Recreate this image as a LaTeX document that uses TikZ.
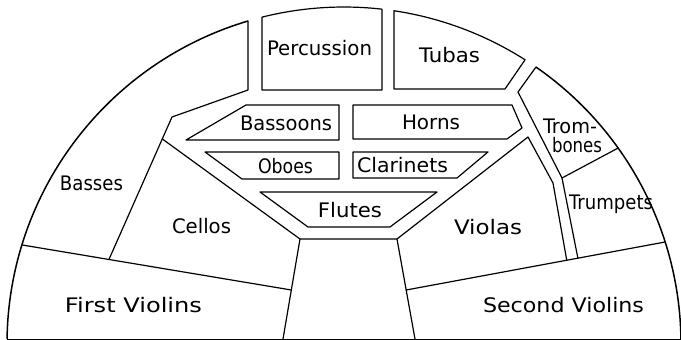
\documentclass[tikz,border=0pt]{standalone}
\usepackage{fontspec}
\setmainfont{DejaVu Sans}
\usetikzlibrary{calc}
\newcommand\fitlbl[2]{\resizebox{#1pt}{\height}{#2}}
\begin{document}
\begin{tikzpicture}[x=1pt,y=1pt,
  wall/.style={line width=1.2pt, line join=round, line cap=round},
  rim/.style={line width=1.5pt, line join=round},
  lab/.style={anchor=base, inner sep=0pt, font=\fontsize{20}{22}\selectfont}]
\useasboundingbox (0,0) rectangle (681,-340);
\coordinate (O) at (344,-344);
% points on the outer rim
\coordinate (aBL) at ([shift={(O)}]179.15:337);
\coordinate (aFV) at ([shift={(O)}]162.9:337);
\coordinate (aBa) at ([shift={(O)}]106.55:337);
\coordinate (aPL) at ([shift={(O)}]104.08:337);
\coordinate (aTL) at ([shift={(O)}]81.47:337);
\coordinate (aTbL) at ([shift={(O)}]55.27:337);
\coordinate (aTT) at ([shift={(O)}]35.56:337);
\coordinate (aSV) at ([shift={(O)}]17.62:337);
\coordinate (aBR) at ([shift={(O)}]0.85:337);
% aisle
\coordinate (aisTL) at (300,-239);
\coordinate (aisTR) at (397,-239);
\coordinate (aisBL) at (283,-339);
\coordinate (aisBR) at (415,-339);
\coordinate (fvR) at ($(aisTL)!0.51!(aisBL)$);
\coordinate (svL) at ($(aisTR)!0.51!(aisBR)$);
\coordinate (basBR) at ($(aFV)!0.323!(fvR)$);
\coordinate (basTL) at (172,-117);
\coordinate (celTL) at ($(basTL)!0.154!(basBR)$);
\coordinate (vioB) at ($(svL)!0.62!(aSV)$);
\coordinate (trpB) at ($(svL)!0.663!(aSV)$);
\coordinate (trbL) at (518,-92);
\coordinate (trbB) at (562,-178);

% outer rim, left part (Basses / First Violins)
\draw[rim] (aBL) arc[start angle=179.15, end angle=106.55, radius=337];
\draw[wall] (aBa) -- (248,-90) -- (basTL) -- (basBR);
% percussion
\draw[wall] (aPL) arc[start angle=104.08, end angle=83.53, radius=337]
  -- (382,-90) -- (262,-90) -- cycle;
% tubas
\draw[wall] (aTL) arc[start angle=81.47, end angle=57.5, radius=337]
  -- (505,-89) -- (394,-89) -- cycle;
% right rim (Trombones / Trumpets / Second Violins)
\draw[rim] (aTbL) arc[start angle=55.27, end angle=0.85, radius=337];
\draw[wall] (aTbL) -- (trbL) -- (trbB) -- (trpB);
\draw[wall] (trbB) -- (aTT);
% violins boundaries
\draw[wall] (aFV) -- (fvR);
\draw[wall] (svL) -- (aSV);
% aisle
\draw[wall] (aisBL) -- (aisTL) -- (aisTR) -- (aisBR);
% cellos and violas
\draw[wall] (celTL) -- (aisTL);
\draw[wall] (aisTR) -- (528,-137) -- (553,-183) -- (vioB);
% woodwinds and horns
\draw[wall] (246,-105) -- (339,-105) -- (339,-140) -- (186,-140) -- cycle;
\draw[wall] (353,-105) -- (512,-105) -- (522,-128) -- (507,-139) -- (353,-139) -- cycle;
\draw[wall] (205,-152) -- (339,-152) -- (339,-179) -- (242,-179) -- cycle;
\draw[wall] (353,-152) -- (488,-152) -- (457,-178) -- (353,-178) -- cycle;
\draw[wall] (260,-192) -- (437,-192) -- (390,-227) -- (308,-227) -- cycle;
% bottom edge
\draw[line width=1pt] (aBL) -- (aBR);

% labels
\node[lab] (perc) at (319.5,-56) {\fitlbl{105}{Percussion}};
\node[lab] (tuba) at (449.5,-63) {\fitlbl{61}{Tubas}};
\node[lab] (bsn) at (286,-130) {\fitlbl{92}{Bassoons}};
\node[lab] (hrn) at (431,-129) {\fitlbl{58}{Horns}};
\node[lab] (obo) at (285.5,-173) {\fitlbl{55}{Oboes}};
\node[lab] (clar) at (402.5,-172) {\fitlbl{91}{Clarinets}};
\node[lab] (flu) at (350,-217) {\fitlbl{64}{Flutes}};
\node[lab] (bass) at (91.5,-190) {\fitlbl{63}{Basses}};
\node[lab] (cel) at (201.5,-233) {\fitlbl{59}{Cellos}};
\node[lab] (vla) at (488,-234) {\fitlbl{68}{Violas}};
\node[lab] (vn1) at (133.5,-312) {\fitlbl{137}{First Violins}};
\node[lab] (vn2) at (563.5,-312) {\fitlbl{161}{Second Violins}};
\node[lab] (trb1) at (570,-133) {\fitlbl{54}{Trom-}};
\node[lab] (trb2) at (577,-152) {\fitlbl{50}{bones}};
\node[lab] (trp) at (611,-209) {\fitlbl{84}{Trumpets}};
\end{tikzpicture}
\end{document}
